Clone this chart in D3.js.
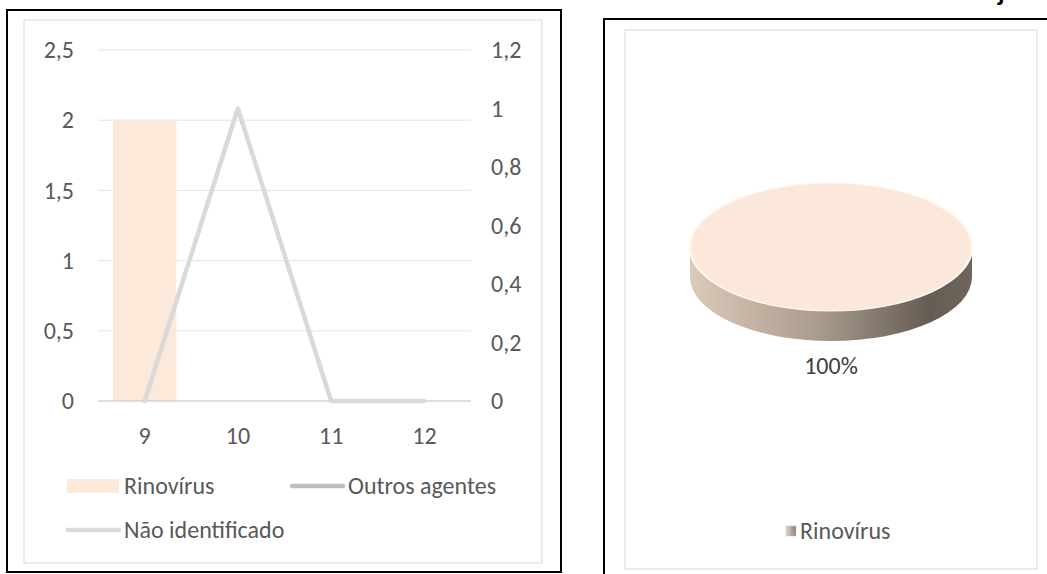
<!DOCTYPE html>
<html>
<head>
<meta charset="utf-8">
<script src="https://cdn.jsdelivr.net/npm/d3@7"></script>
<style>
  body { margin: 0; background: #fff; }
  text { font-family: Calibri, Carlito, "Open Sans", sans-serif; fill: #595959; }
</style>
</head>
<body>
<script>
// weekly counts
const weeks = ["9", "10", "11", "12"];
const rinovirus = [2, 0, 0, 0];
const outrosAgentes = [null, null, null, null];
const naoIdentificado = [0, 1, 0, 0];
const leftTicks = [0, 0.5, 1, 1.5, 2, 2.5];
const rightTicks = [0, 0.2, 0.4, 0.6, 0.8, 1, 1.2];

// pie
const pieLabels = ["Rinovírus"];
const pieValues = [2];

const ptBR = d3.formatLocale({decimal: ",", thousands: ".", grouping: [3], currency: ["", ""]});
const fmt = ptBR.format("~g");
const fs = 24;

let svg = d3.select("body").append("svg")
    .attr("width", 1047)
    .attr("height", 574);

// ---------- left panel ----------
svg.append("rect").attr("x", 7).attr("y", 10).attr("width", 554).attr("height", 562)
    .attr("fill", "#fff").attr("stroke", "#000").attr("stroke-width", 2);
svg.append("rect").attr("x", 24).attr("y", 20).attr("width", 518).attr("height", 543)
    .attr("fill", "none").attr("stroke", "#d9d9d9").attr("stroke-width", 1);

let x = d3.scaleBand().domain(weeks).range([98, 471]);
let yL = d3.scaleLinear().domain([0, 2.5]).range([401, 50]);
let yR = d3.scaleLinear().domain([0, 1.2]).range([401, 50]);

let g = svg.append("g");

g.append("g")
    .selectAll("line")
    .data(leftTicks.filter(d => d > 0))
    .join("line")
    .attr("x1", 98).attr("x2", 471)
    .attr("y1", d => yL(d)).attr("y2", d => yL(d))
    .attr("stroke", "#e4e4e4").attr("stroke-width", 1);

let barW = x.bandwidth() * 0.68;
g.append("g")
    .selectAll("rect")
    .data(weeks.map((w, i) => ({w, v: rinovirus[i]})))
    .join("rect")
    .attr("x", d => x(d.w) + (x.bandwidth() - barW) / 2)
    .attr("y", d => yL(d.v))
    .attr("width", barW)
    .attr("height", d => yL(0) - yL(d.v))
    .attr("fill", "#fce9da");

// x axis baseline
g.append("line")
    .attr("x1", 98).attr("x2", 471)
    .attr("y1", yL(0)).attr("y2", yL(0))
    .attr("stroke", "#bfbfbf").attr("stroke-width", 1);

let line = d3.line()
    .defined(d => d.v != null)
    .x(d => x(d.w) + x.bandwidth() / 2)
    .y(d => yR(d.v));

[[outrosAgentes, "#bfbfbf"], [naoIdentificado, "#d9d9d9"]].forEach(([vals, col]) => {
    g.append("path")
        .datum(weeks.map((w, i) => ({w, v: vals[i]})))
        .attr("d", line)
        .attr("fill", "none")
        .attr("stroke", col)
        .attr("stroke-width", 4.5)
        .attr("stroke-linejoin", "round")
        .attr("stroke-linecap", "round");
});

// axes labels
let axisL = d3.axisLeft(yL).tickValues(leftTicks).tickFormat(fmt).tickSize(0).tickPadding(0);
let axL = g.append("g").attr("transform", "translate(74,0)").call(axisL);
let axisR = d3.axisRight(yR).tickValues(rightTicks).tickFormat(fmt).tickSize(0).tickPadding(0);
let axR = g.append("g").attr("transform", "translate(491,0)").call(axisR);
let axisB = d3.axisBottom(x).tickSize(0).tickPadding(0);
let axB = g.append("g").attr("transform", "translate(0,436)").call(axisB);
[axL, axR, axB].forEach(a => {
    a.select(".domain").remove();
    a.selectAll("text").attr("font-size", fs).attr("fill", "#595959")
        .attr("font-family", 'Calibri, Carlito, "Open Sans", sans-serif');
});
axB.selectAll("text").attr("y", 0).attr("dy", "0.35em");

// legend
let leg = [
    {name: "Rinovírus", type: "rect", col: "#fce9da", x: 67, y: 486},
    {name: "Outros agentes", type: "line", col: "#bfbfbf", x: 291, y: 486},
    {name: "Não identificado", type: "line", col: "#d9d9d9", x: 67, y: 530}
];
let lg = g.selectAll(".leg").data(leg).join("g").attr("class", "leg")
    .attr("transform", d => "translate(" + d.x + "," + d.y + ")");
lg.filter(d => d.type == "rect").append("rect")
    .attr("x", 0).attr("y", -7).attr("width", 52).attr("height", 14).attr("fill", d => d.col);
lg.filter(d => d.type == "line").append("line")
    .attr("x1", 1).attr("x2", 52).attr("y1", 0).attr("y2", 0)
    .attr("stroke", d => d.col).attr("stroke-width", 4.5).attr("stroke-linecap", "round");
lg.append("text").attr("x", 57).attr("dy", "0.35em").attr("font-size", fs).text(d => d.name);

// ---------- right panel ----------
svg.append("rect").attr("x", 604).attr("y", 19).attr("width", 460).attr("height", 570)
    .attr("fill", "#fff").attr("stroke", "#000").attr("stroke-width", 2);
svg.append("rect").attr("x", 625).attr("y", 30).attr("width", 412).attr("height", 539)
    .attr("fill", "none").attr("stroke", "#d9d9d9").attr("stroke-width", 1);

// cut-off title above the panel
svg.append("text").attr("x", 998).attr("y", 1)
    .attr("font-size", 26).attr("font-weight", "bold").style("fill", "#000")
    .text("j");

let defs = svg.append("defs");
let side = defs.append("linearGradient").attr("id", "side");
side.append("stop").attr("offset", "0%").attr("stop-color", "#dccab8");
side.append("stop").attr("offset", "45%").attr("stop-color", "#aa9c8e");
side.append("stop").attr("offset", "85%").attr("stop-color", "#655c54");
side.append("stop").attr("offset", "100%").attr("stop-color", "#6e655d");
let sw = defs.append("linearGradient").attr("id", "swatch");
sw.append("stop").attr("offset", "0%").attr("stop-color", "#e6d6c6");
sw.append("stop").attr("offset", "100%").attr("stop-color", "#8a7e74");

let cx = 831, cy = 247, rx = 141, ry = 64, depth = 30;
let pie = d3.pie().sort(null)(pieValues);
let arc = d3.arc().innerRadius(0).outerRadius(rx);
let total = d3.sum(pieValues);

let pg = svg.append("g");
pg.selectAll(".side").data(pie).join("path").attr("class", "side")
    .attr("d", "M" + (cx - rx) + "," + cy
        + "A" + rx + "," + ry + " 0 0 0 " + (cx + rx) + "," + cy
        + "L" + (cx + rx) + "," + (cy + depth)
        + "A" + rx + "," + ry + " 0 0 1 " + (cx - rx) + "," + (cy + depth) + "Z")
    .attr("fill", "url(#side)");
pg.selectAll(".top").data(pie).join("path").attr("class", "top")
    .attr("transform", "translate(" + cx + "," + cy + ") scale(1," + (ry / rx) + ")")
    .attr("d", arc)
    .attr("fill", "#fbe8da")
    .attr("stroke", "#fff6ee").attr("stroke-width", 2.5);

pg.selectAll(".lbl").data(pie).join("text").attr("class", "lbl")
    .attr("x", cx).attr("y", 366).attr("dy", "0.35em")
    .attr("text-anchor", "middle").attr("font-size", fs).style("fill", "#404040")
    .text(d => d3.format(".0%")(d.value / total));

let rl = svg.append("g").selectAll("g").data(pieLabels).join("g")
    .attr("transform", "translate(786,531)");
rl.append("rect").attr("x", 0).attr("y", -5).attr("width", 10).attr("height", 10)
    .attr("fill", "url(#swatch)").attr("stroke", "#cfc3b6").attr("stroke-width", 0.5);
rl.append("text").attr("x", 14).attr("dy", "0.35em").attr("font-size", fs).text(d => d);
</script>
</body>
</html>
